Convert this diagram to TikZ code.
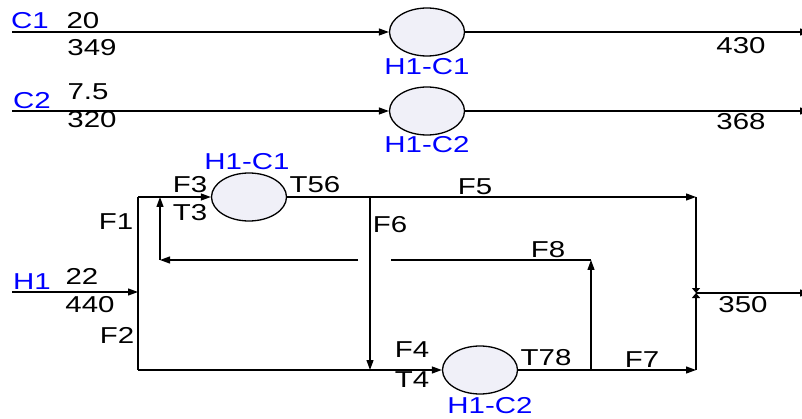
\documentclass[tikz,border=0pt]{standalone}
\usepackage{fontspec}
\setmainfont[FakeStretch=1.28]{Liberation Sans}
\usetikzlibrary{arrows.meta,shapes.geometric}
\definecolor{exfill}{RGB}{240,240,248}
\definecolor{lblue}{RGB}{0,0,255}
\tikzset{
  ln/.style={line width=1.2pt, draw=black},
  arr/.style={ln, -{Triangle[length=10pt,width=7pt]}},
  sarr/.style={ln, -{Triangle[length=5pt,width=8pt]}},
  hx/.style={ellipse, draw=black, line width=1.3pt, fill=exfill, minimum width=75pt, minimum height=48pt, inner sep=0pt},
  lbl/.style={inner sep=0pt, font=\fontsize{23}{27}\selectfont, text=black},
  blbl/.style={lbl, text=lblue},
}
\begin{document}
\begin{tikzpicture}[x=1pt,y=-1pt]
\useasboundingbox (0,0) rectangle (802,419);
\clip (0,0) rectangle (802,419);
% exchangers
\node[hx] (E1) at (427,32) {};
\node[hx] (E2) at (427,111) {};
\node[hx] (E3) at (249,197) {};
\node[hx] (E4) at (480,370) {};
% cold streams
\coordinate (c1s) at (12,32);
\coordinate (c1e) at (810,32);
\coordinate (c2s) at (12,111);
\coordinate (c2e) at (810,111);
\draw[arr] (c1s) -- (E1.west);
\draw[arr] (E1.east) -- (c1e);
\draw[arr] (c2s) -- (E2.west);
\draw[arr] (E2.east) -- (c2e);
% hot stream network
\coordinate (h1s) at (12,292);
\coordinate (sp) at (138,292);
\coordinate (tl) at (138,197);
\coordinate (bl) at (138,370);
\coordinate (f6t) at (370,197);
\coordinate (f6b) at (370,370);
\coordinate (tr) at (696,197);
\coordinate (br) at (696,370);
\coordinate (mx) at (696,293);
\coordinate (out) at (810,293);
\coordinate (f8b) at (591,370);
\coordinate (f8t) at (591,260);
\coordinate (f8l) at (391,260);
\coordinate (rcr) at (358,260);
\coordinate (rcl) at (160,260);
\coordinate (rct) at (160,197);
\draw[arr] (h1s) -- (sp);
\draw[ln] (tl) -- (bl);
\draw[arr] (tl) -- (E3.west);
\draw[arr] (E3.east) -- (tr);
\draw[arr] (f6t) -- (f6b);
\draw[ln] (bl) -- (f6b);
\draw[arr] (f6b) -- (E4.west);
\draw[arr] (E4.east) -- (br);
\draw[sarr] (tr) -- (mx);
\draw[sarr] (br) -- (mx);
\draw[arr] (mx) -- (out);
\draw[arr] (f8b) -- (f8t);
\draw[ln] (f8t) -- (f8l);
\draw[arr] (rcr) -- (rcl);
\draw[arr] (rcl) -- (rct);
% labels
\node[blbl] (tC1) at (30,21) {C1};
\node[lbl] (t20) at (83,21) {20};
\node[lbl] (t349) at (92,48) {349};
\node[blbl] (tE1) at (427,67) {H1-C1};
\node[lbl] (t430) at (741,46) {430};
\node[blbl] (tC2) at (32,101) {C2};
\node[lbl] (t75) at (88,92) {7.5};
\node[lbl] (t320) at (92,120) {320};
\node[blbl] (tE2) at (427,145) {H1-C2};
\node[lbl] (t368) at (741,122) {368};
\node[blbl] (tE3) at (247,162) {H1-C1};
\node[lbl] (tF3) at (190,185) {F3};
\node[lbl] (tT3) at (190,213) {T3};
\node[lbl] (tT56) at (315,185) {T56};
\node[lbl] (tF1) at (116,222) {F1};
\node[lbl] (tF5) at (475,187) {F5};
\node[lbl] (tF6) at (390,225) {F6};
\node[lbl] (tF8) at (548,250) {F8};
\node[blbl] (tH1) at (32,282) {H1};
\node[lbl] (t22) at (82,276) {22};
\node[lbl] (t440) at (90,305) {440};
\node[lbl] (tF2) at (117,335) {F2};
\node[lbl] (t350) at (743,305) {350};
\node[lbl] (tF4) at (412,350) {F4};
\node[lbl] (tT4) at (412,380) {T4};
\node[lbl] (tT78) at (546,358) {T78};
\node[lbl] (tF7) at (642,360) {F7};
\node[blbl] (tE4) at (490,406) {H1-C2};
\end{tikzpicture}
\end{document}
